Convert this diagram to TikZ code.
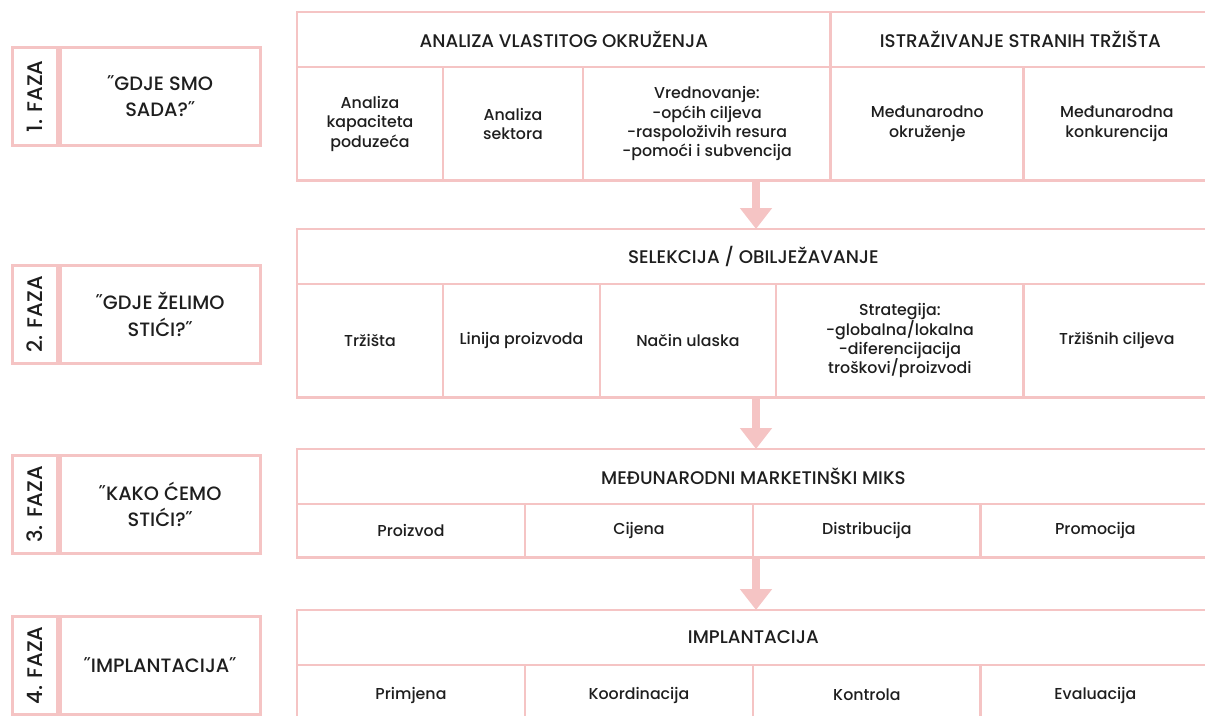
\documentclass[tikz,border=0pt]{standalone}
\usepackage{fontspec}
\IfFontExistsTF{Poppins Medium}{\setmainfont{Poppins Medium}}{\setmainfont{Poppins}}
\usetikzlibrary{positioning,arrows.meta}
\definecolor{rozaLinija}{RGB}{245,196,196}
\definecolor{tekst}{RGB}{30,30,30}

\begin{document}
\begin{tikzpicture}[x=0.02cm,y=-0.02cm,every node/.style={draw=rozaLinija,line width=1.6pt,text=tekst,align=center,inner sep=2pt}]

% Define block styles
\tikzstyle{faza} = [rectangle, minimum width=0.9cm, minimum height=1.96cm,
    font=\fontsize{12}{14}\selectfont]
\tikzstyle{pitanje} = [rectangle, minimum width=4cm, minimum height=1.96cm,
    font=\fontsize{11}{15}\selectfont]
\tikzstyle{zaglavlje} = [rectangle, outer sep=0pt, minimum height=1.1cm,
    font=\fontsize{10.4}{12}\selectfont]
\tikzstyle{celija} = [rectangle, outer sep=0pt, font=\fontsize{9}{11}\selectfont]
\tikzstyle{visoka} = [celija, minimum height=2.27cm]
\tikzstyle{niska} = [celija, minimum height=1.07cm]
\tikzstyle{strelica} = [draw=rozaLinija, line width=4.5pt, -{Triangle[width=0.62cm,length=0.42cm]}]

\clip (0,0) rectangle (1205,716);

% phases
\node[faza, anchor=north west] (f1) at (11,46) {\rotatebox{90}{1. FAZA}};
\node[pitanje, right=0pt of f1] (p1) {˝GDJE SMO\\SADA?˝};
\node[faza, anchor=north west] (f2) at (11,264) {\rotatebox{90}{2. FAZA}};
\node[pitanje, right=0pt of f2] (p2) {˝GDJE ŽELIMO\\STIĆI?˝};
\node[faza, anchor=north west] (f3) at (11,454) {\rotatebox{90}{3. FAZA}};
\node[pitanje, right=0pt of f3] (p3) {˝KAKO ĆEMO\\STIĆI?˝};
\node[faza, anchor=north west] (f4) at (11,615) {\rotatebox{90}{4. FAZA}};
\node[pitanje, right=0pt of f4] (p4) {˝IMPLANTACIJA˝};

% table 1
\node[zaglavlje, anchor=north west, minimum width=10.68cm] (h11) at (297,12) {ANALIZA VLASTITOG OKRUŽENJA};
\node[zaglavlje, right=0pt of h11, minimum width=7.58cm] (h12) {ISTRAŽIVANJE STRANIH TRŽIŠTA};
\node[visoka, anchor=north west, minimum width=2.92cm] (c11) at (h11.south west) {Analiza\\kapaciteta\\poduzeća};
\node[visoka, right=0pt of c11, minimum width=2.8cm] (c12) {Analiza\\sektora};
\node[visoka, right=0pt of c12, minimum width=4.96cm] (c13) {Vrednovanje:\\-općih ciljeva\\-raspoloživih resura\\-pomoći i subvencija};
\node[visoka, right=0pt of c13, minimum width=3.86cm] (c14) {Međunarodno\\okruženje};
\node[visoka, right=0pt of c14, minimum width=3.72cm] (c15) {Međunarodna\\konkurencija};

% table 2
\node[zaglavlje, anchor=north west, minimum width=18.26cm] (h21) at (297,229) {SELEKCIJA / OBILJEŽAVANJE};
\node[visoka, anchor=north west, minimum width=2.92cm] (c21) at (h21.south west) {Tržišta};
\node[visoka, right=0pt of c21, minimum width=3.14cm] (c22) {Linija proizvoda};
\node[visoka, right=0pt of c22, minimum width=3.52cm] (c23) {Način ulaska};
\node[visoka, right=0pt of c23, minimum width=4.96cm] (c24) {Strategija:\\-globalna/lokalna\\-diferencijacija\\troškovi/proizvodi};
\node[visoka, right=0pt of c24, minimum width=3.72cm] (c25) {Tržišnih ciljeva};

% table 3
\node[zaglavlje, anchor=north west, minimum width=18.26cm] (h31) at (297,449) {MEĐUNARODNI MARKETINŠKI MIKS};
\node[niska, anchor=north west, minimum width=4.56cm] (c31) at (h31.south west) {Proizvod};
\node[niska, right=0pt of c31, minimum width=4.56cm] (c32) {Cijena};
\node[niska, right=0pt of c32, minimum width=4.56cm] (c33) {Distribucija};
\node[niska, right=0pt of c33, minimum width=4.58cm] (c34) {Promocija};

% table 4
\node[zaglavlje, anchor=north west, minimum width=18.26cm] (h41) at (297,610) {IMPLANTACIJA};
\node[niska, anchor=north west, minimum width=4.56cm, minimum height=1.2cm] (c41) at (h41.south west) {Primjena};
\node[niska, right=0pt of c41, minimum width=4.56cm, minimum height=1.2cm] (c42) {Koordinacija};
\node[niska, right=0pt of c42, minimum width=4.56cm, minimum height=1.2cm] (c43) {Kontrola};
\node[niska, right=0pt of c43, minimum width=4.58cm, minimum height=1.2cm] (c44) {Evaluacija};

% arrows between the tables
\coordinate (s1) at (756,180);
\coordinate (s2) at (756,398);
\coordinate (s3) at (756,557);
\draw[strelica] (s1) -- (s1 |- h21.north);
\draw[strelica] (s2) -- (s2 |- h31.north);
\draw[strelica] (s3) -- (s3 |- h41.north);

\end{tikzpicture}
\end{document}
